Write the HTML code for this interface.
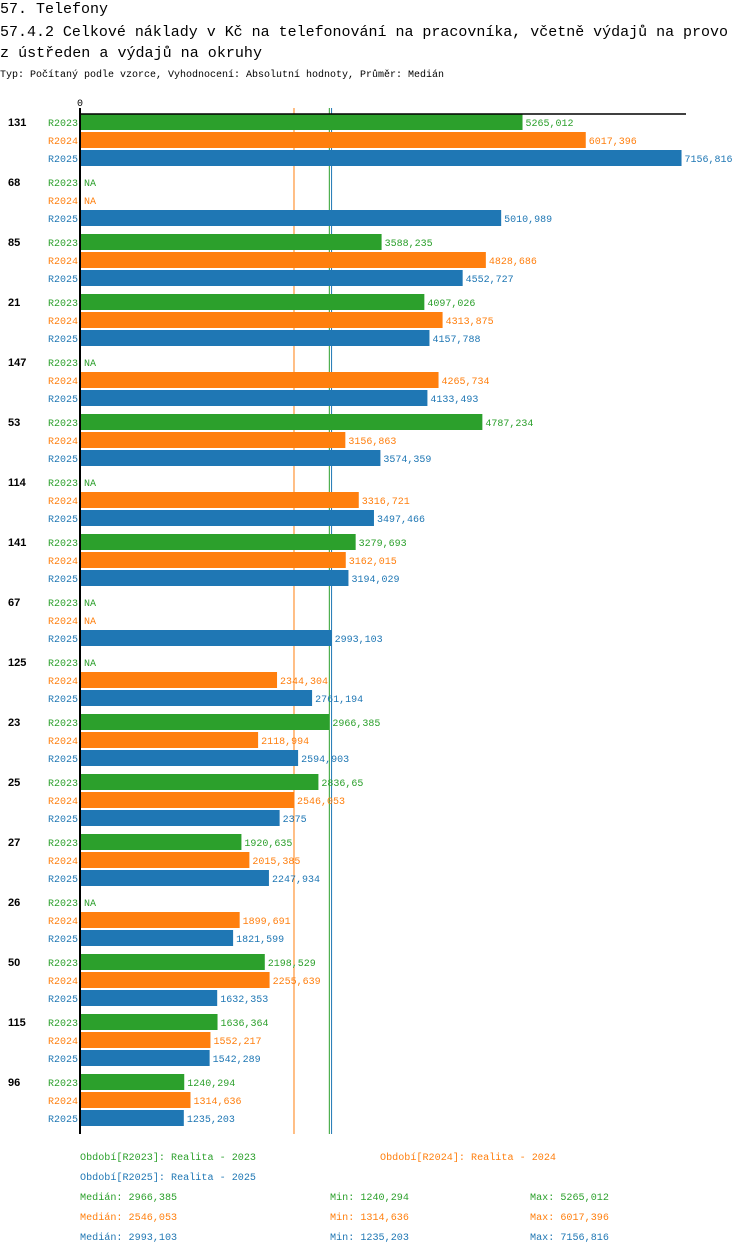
<!DOCTYPE html>
<html><head><meta charset="utf-8"><style>
body{margin:0;background:#fff;width:750px;height:1254px;overflow:hidden;font-family:"Liberation Mono",monospace}
</style></head><body>
<svg id="c" width="750" height="1254" xmlns="http://www.w3.org/2000/svg" font-family="Liberation Mono, monospace">
<text x="0" y="13" font-size="15">57. Telefony</text>
<text x="0" y="36" font-size="15" textLength="728" lengthAdjust="spacingAndGlyphs">57.4.2 Celkové náklady v Kč na telefonování na pracovníka, včetně výdajů na provo</text>
<text x="0" y="57" font-size="15" textLength="262" lengthAdjust="spacingAndGlyphs">z ústředen a výdajů na okruhy</text>
<text x="0" y="77" font-size="10" textLength="444" lengthAdjust="spacingAndGlyphs">Typ: Počítaný podle vzorce, Vyhodnocení: Absolutní hodnoty, Průměr: Medián</text>
<g id="g"></g>
</svg>
<script>
const groups=["131","68","85","21","147","53","114","141","67","125","23","25","27","26","50","115","96"];
const r2023=[5265.012,null,3588.235,4097.026,null,4787.234,null,3279.693,null,null,2966.385,2836.65,1920.635,null,2198.529,1636.364,1240.294];
const r2024=[6017.396,null,4828.686,4313.875,4265.734,3156.863,3316.721,3162.015,null,2344.304,2118.994,2546.053,2015.385,1899.691,2255.639,1552.217,1314.636];
const r2025=[7156.816,5010.989,4552.727,4157.788,4133.493,3574.359,3497.466,3194.029,2993.103,2761.194,2594.903,2375,2247.934,1821.599,1632.353,1542.289,1235.203];
const seriesNames=["R2023","R2024","R2025"];
const medians=[2966.385,2546.053,2993.103];
const mins=[1240.294,1314.636,1235.203];
const maxs=[5265.012,6017.396,7156.816];
const colors=["#2ca02c","#ff7f0e","#1f77b4"];
const NS="http://www.w3.org/2000/svg";
const g=document.getElementById('g');
const X0=80,K=0.08405;
const x=v=>X0+v*K;
const fmt=v=>String(v).replace('.',',');
function el(t,a,txt){const e=document.createElementNS(NS,t);for(const k in a)e.setAttribute(k,a[k]);if(txt!=null)e.textContent=txt;g.appendChild(e);return e;}
const data=[r2023,r2024,r2025];
let e;
const bottom=114+groups.length*60;
[1,0,2].forEach(s=>{
  e=el('line',{x1:x(medians[s]),x2:x(medians[s]),y1:108,y2:bottom,stroke:colors[s],'stroke-width':1});
  
  
});
e=el('text',{x:77,y:106,'font-size':10},'0');


groups.forEach((gn,i)=>{
  const top=114+i*60;
  e=el('text',{x:8,y:top+12,'font-size':11,'font-weight':'bold','font-family':'Liberation Sans, sans-serif'},gn);
  
  
  for(let s=0;s<3;s++){
    const y=top+s*18,v=data[s][i];
    e=el('text',{x:78,y:y+12,'font-size':10,'text-anchor':'end',fill:colors[s]},seriesNames[s]);
    
    
    if(v==null){
      e=el('text',{x:84,y:y+12,'font-size':10,fill:colors[s]},'NA');
      
      
    }else{
      e=el('rect',{x:X0,y:y,width:x(v)-X0,height:16,fill:colors[s]});
      
      
      e=el('text',{x:x(v)+3,y:y+12,'font-size':10,fill:colors[s]},fmt(v));
      
      
    }
  }
});
e=el('line',{x1:80,x2:686,y1:114,y2:114,stroke:'#000','stroke-width':1.5});


e=el('line',{x1:80,x2:80,y1:108,y2:bottom,stroke:'#000','stroke-width':2});


const leg=[[80,1160,0,"Období[R2023]: Realita - 2023"],[380,1160,1,"Období[R2024]: Realita - 2024"],[80,1180,2,"Období[R2025]: Realita - 2025"]];
leg.forEach(l=>{
  e=el('text',{x:l[0],y:l[1],'font-size':10,fill:colors[l[2]],textLength:176,lengthAdjust:'spacingAndGlyphs'},l[3]);
  
  
});
for(let s=0;s<3;s++){
  const y=1200+s*20;
  const a=["Medián: "+fmt(medians[s]),"Min: "+fmt(mins[s]),"Max: "+fmt(maxs[s])];
  const xs=[80,330,530];
  a.forEach((t,j)=>{
    e=el('text',{x:xs[j],y:y,'font-size':10,fill:colors[s],textLength:t.length*6.07,lengthAdjust:'spacingAndGlyphs'},t);
    
    
  });
}
</script>
</body></html>
